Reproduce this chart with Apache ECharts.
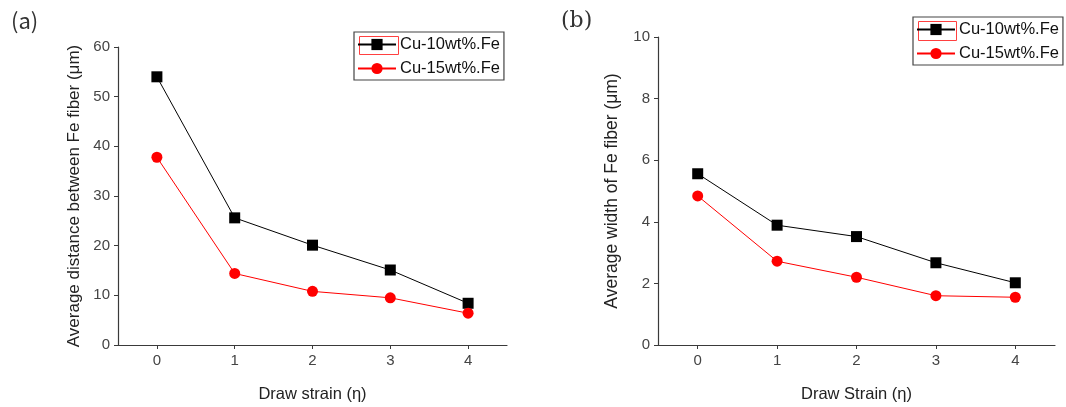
<!DOCTYPE html>
<html>
<head>
<meta charset="utf-8">
<script src="https://cdn.jsdelivr.net/npm/echarts@6/dist/echarts.min.js"></script>
<style>
    html, body {margin: 0; padding: 0; background: #fff;}
    #main {width: 1066px; height: 407px;}
</style>
</head>
<body>
<div id="main"></div>
<script>
// 拉拔应变
var strainLabels = ['0', '1', '2', '3', '4']
// (a) Fe纤维平均间距 (μm)
var distCu10 = [54.0, 25.6, 20.1, 15.1, 8.4]
var distCu15 = [37.8, 14.4, 10.8, 9.5, 6.4]
// (b) Fe纤维平均宽度 (μm)
var widthCu10 = [5.56, 3.89, 3.52, 2.67, 2.02]
var widthCu15 = [4.84, 2.72, 2.20, 1.60, 1.55]

var nameA = 'Cu-10wt%.Fe'
var nameB = 'Cu-15wt%.Fe'

var chartDom = document.getElementById('main');
var myChart = echarts.init(chartDom);
var option;

var axisColor = '#3a3a3a'
var labelStyle = {color: '#444', fontSize: 15, fontFamily: 'Liberation Sans', margin: 8}

function xAxisOf(gridIndex, name) {
    return {
        type: 'category',
        gridIndex: gridIndex,
        data: strainLabels,
        boundaryGap: true,
        name: name,
        nameLocation: 'middle',
        nameGap: 41,
        nameTextStyle: {color: '#222', fontSize: 16.5, fontFamily: 'Liberation Sans'},
        axisLine: {lineStyle: {color: axisColor, width: 1.2}},
        axisTick: {show: true, alignWithLabel: true, length: 4, lineStyle: {color: axisColor}},
        axisLabel: labelStyle,
        splitLine: {show: false}
    }
}

function yAxisOf(gridIndex, max, interval, name, gap, size) {
    return {
        type: 'value',
        gridIndex: gridIndex,
        min: 0,
        max: max,
        interval: interval,
        name: name,
        nameLocation: 'middle',
        nameGap: gap,
        nameTextStyle: {color: '#222', fontSize: size, fontFamily: 'Liberation Sans'},
        axisLine: {show: true, lineStyle: {color: axisColor, width: 1.2}},
        axisTick: {show: true, length: 4, lineStyle: {color: axisColor}},
        axisLabel: labelStyle,
        splitLine: {show: false}
    }
}

function legendOf(left, top) {
    return {
        orient: 'vertical',
        left: left,
        top: top,
        data: [nameA, nameB],
        itemWidth: 38,
        itemHeight: 14,
        itemGap: 7,
        padding: [4, 4, 3, 3],
        borderColor: '#444',
        borderWidth: 1.2,
        borderRadius: 0,
        textStyle: {color: '#111', fontSize: 16.5, lineHeight: 14, fontFamily: 'Liberation Sans', padding: [0, 0, 0, -1]}
    }
}

function lineSeries(name, data, idx, symbol, color) {
    return {
        name: name,
        type: 'line',
        xAxisIndex: idx,
        yAxisIndex: idx,
        data: data,
        symbol: symbol,
        symbolSize: 11,
        lineStyle: {color: color, width: 1},
        itemStyle: {color: color},
        animation: false
    }
}

option = {
    backgroundColor: '#fff',
    title: [
        {text: '(a)', left: 6, top: 5, textStyle: {color: '#333', fontSize: 22, fontWeight: 'normal', fontFamily: 'Noto Sans CJK KR'}},
        {text: '(b)', left: 556, top: 5, textStyle: {color: '#333', fontSize: 22, fontWeight: 'normal', fontFamily: 'DejaVu Serif'}}
    ],
    grid: [
        {left: 118, top: 47, width: 389, height: 298, outerBoundsMode: 'none'},
        {left: 658, top: 37, width: 397, height: 308, outerBoundsMode: 'none'}
    ],
    legend: [
        legendOf(354, 32),
        legendOf(913, 17)
    ],
    xAxis: [
        xAxisOf(0, 'Draw strain (η)'),
        xAxisOf(1, 'Draw Strain (η)')
    ],
    yAxis: [
        yAxisOf(0, 60, 10, 'Average distance between Fe fiber (μm)', 35, 17),
        yAxisOf(1, 10, 2, 'Average width of Fe fiber (μm)', 37, 17.5)
    ],
    // 图例里第一项的红色选中框
    graphic: [
        {type: 'rect', left: 357, top: 34, shape: {width: 39, height: 18}, style: {fill: 'none', stroke: '#ff4040', lineWidth: 1}},
        {type: 'rect', left: 916, top: 19, shape: {width: 38, height: 19}, style: {fill: 'none', stroke: '#ff4040', lineWidth: 1}}
    ],
    series: [
        lineSeries(nameA, distCu10, 0, 'rect', '#000000'),
        lineSeries(nameB, distCu15, 0, 'circle', '#ff0000'),
        lineSeries(nameA, widthCu10, 1, 'rect', '#000000'),
        lineSeries(nameB, widthCu15, 1, 'circle', '#ff0000')
    ]
};

option && myChart.setOption(option);
</script>
</body>
</html>
